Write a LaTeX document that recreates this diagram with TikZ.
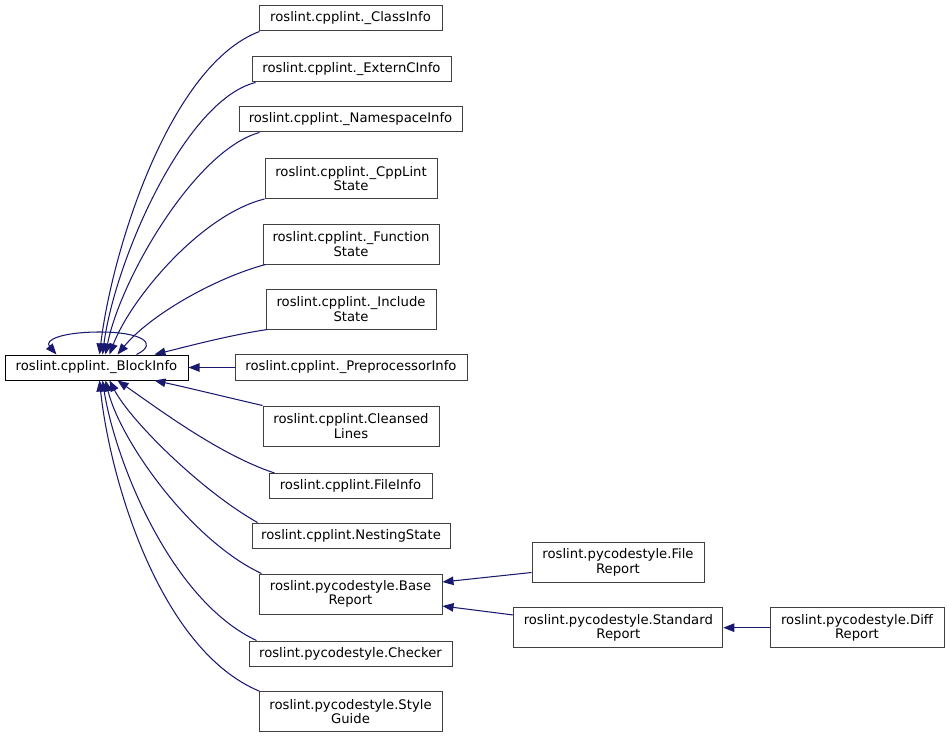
\documentclass[tikz,border=0pt]{standalone}
\usepackage{fontspec}
\setmainfont{DejaVu Sans}
\usetikzlibrary{arrows.meta,calc}
\definecolor{edgeblue}{RGB}{25,25,112}
\definecolor{boxgray}{RGB}{64,64,64}
\tikzset{
  cls/.style={draw=boxgray, line width=1pt, fill=white, inner sep=0pt, align=center,
    font=\fontsize{13.2}{14.6}\selectfont, text=black, minimum height=25pt},
  twoline/.style={minimum height=40pt},
  edge/.style={draw=edgeblue, line width=1.05pt, -{Triangle[length=11pt,width=8.5pt]}},
}
\begin{document}
\begin{tikzpicture}[x=1pt,y=-1pt]
\useasboundingbox (0,0) rectangle (949,738);
% nodes
\node[cls, draw=black, minimum width=183pt] (Block) at (96.5,367.5) {roslint.cpplint.\_BlockInfo};
\node[cls, minimum width=183pt] (Class) at (350.5,18.5) {roslint.cpplint.\_ClassInfo};
\node[cls, minimum width=199pt] (Extern) at (351.5,69.5) {roslint.cpplint.\_ExternCInfo};
\node[cls, minimum width=223pt] (Namespace) at (350.5,119.5) {roslint.cpplint.\_NamespaceInfo};
\node[cls, twoline, minimum width=172pt] (CppLint) at (351,178.5) {roslint.cpplint.\_CppLint\\State};
\node[cls, twoline, minimum width=176pt] (Function) at (351,244) {roslint.cpplint.\_Function\\State};
\node[cls, twoline, minimum width=170pt] (Include) at (351,309) {roslint.cpplint.\_Include\\State};
\node[cls, minimum width=232pt, minimum height=26pt] (Pre) at (351,367.5) {roslint.cpplint.\_PreprocessorInfo};
\node[cls, twoline, minimum width=176pt] (Cleansed) at (351,426) {roslint.cpplint.Cleansed\\Lines};
\node[cls, minimum width=163pt] (FileInfo) at (350.5,486) {roslint.cpplint.FileInfo};
\node[cls, minimum width=198pt] (Nesting) at (351,535.5) {roslint.cpplint.NestingState};
\node[cls, twoline, minimum width=183pt] (Base) at (350.5,594) {roslint.pycodestyle.Base\\Report};
\node[cls, minimum width=203pt] (Checker) at (350.5,653.5) {roslint.pycodestyle.Checker};
\node[cls, twoline, minimum width=183pt] (Style) at (350.5,711.7) {roslint.pycodestyle.Style\\Guide};
\node[cls, twoline, minimum width=172pt] (FileReport) at (618,562.5) {roslint.pycodestyle.File\\Report};
\node[cls, twoline, minimum width=209pt] (Standard) at (618.3,627.7) {roslint.pycodestyle.Standard\\Report};
\node[cls, twoline, minimum width=174pt] (Diff) at (857,627.7) {roslint.pycodestyle.Diff\\Report};
% self loop
\draw[edge] ($(Block.north west)+(132,0)$) .. controls (160,343) and (140,332) .. (100,332)
  .. controls (62,332) and (44,340) .. ($(Block.north west)+(52,0)$);
% edges into top of BlockInfo
\draw[edge] ($(Class.south west)+(1,0)$) .. controls (170,65) and (112,250) .. ($(Block.north west)+(95,0)$);
\draw[edge] ($(Extern.south west)+(4,0)$) .. controls (185,100) and (115,260) .. ($(Block.north west)+(98,0)$);
\draw[edge] ($(Namespace.south west)+(21,0)$) .. controls (195,150) and (120,280) .. ($(Block.north west)+(101,0)$);
\draw[edge] (CppLint.south west) .. controls (200,215) and (130,300) .. ($(Block.north west)+(105,0)$);
\draw[edge] ($(Function.south west)+(3,0)$) .. controls (215,278) and (150,315) .. ($(Block.north west)+(113,0)$);
\draw[edge] ($(Include.south west)+(2,0)$) .. controls (230,335) and (185,347) .. ($(Block.north west)+(150,0)$);
\draw[edge] (Pre.west) -- (Block.east);
% edges into bottom of BlockInfo
\draw[edge] (Cleansed.north west) .. controls (230,398) and (185,387) .. ($(Block.south west)+(150,0)$);
\draw[edge] ($(FileInfo.north west)+(6,0)$) .. controls (220,455) and (160,410) .. ($(Block.south west)+(113,0)$);
\draw[edge] ($(Nesting.north west)+(6,0)$) .. controls (200,490) and (130,420) .. ($(Block.south west)+(105,0)$);
\draw[edge] ($(Base.north west)+(3,0)$) .. controls (190,540) and (120,440) .. ($(Block.south west)+(101,0)$);
\draw[edge] ($(Checker.north west)+(8,0)$) .. controls (170,600) and (115,460) .. ($(Block.south west)+(98,0)$);
\draw[edge] ($(Style.north west)+(1,0)$) .. controls (160,650) and (110,480) .. ($(Block.south west)+(95,0)$);
% right side
\draw[edge] ($(FileReport.west)+(0,10)$) -- ($(Base.east)+(0,-12)$);
\draw[edge] ($(Standard.west)+(0,-12.7)$) -- ($(Base.east)+(0,12)$);
\draw[edge] (Diff.west) -- (Standard.east);
\end{tikzpicture}
\end{document}
